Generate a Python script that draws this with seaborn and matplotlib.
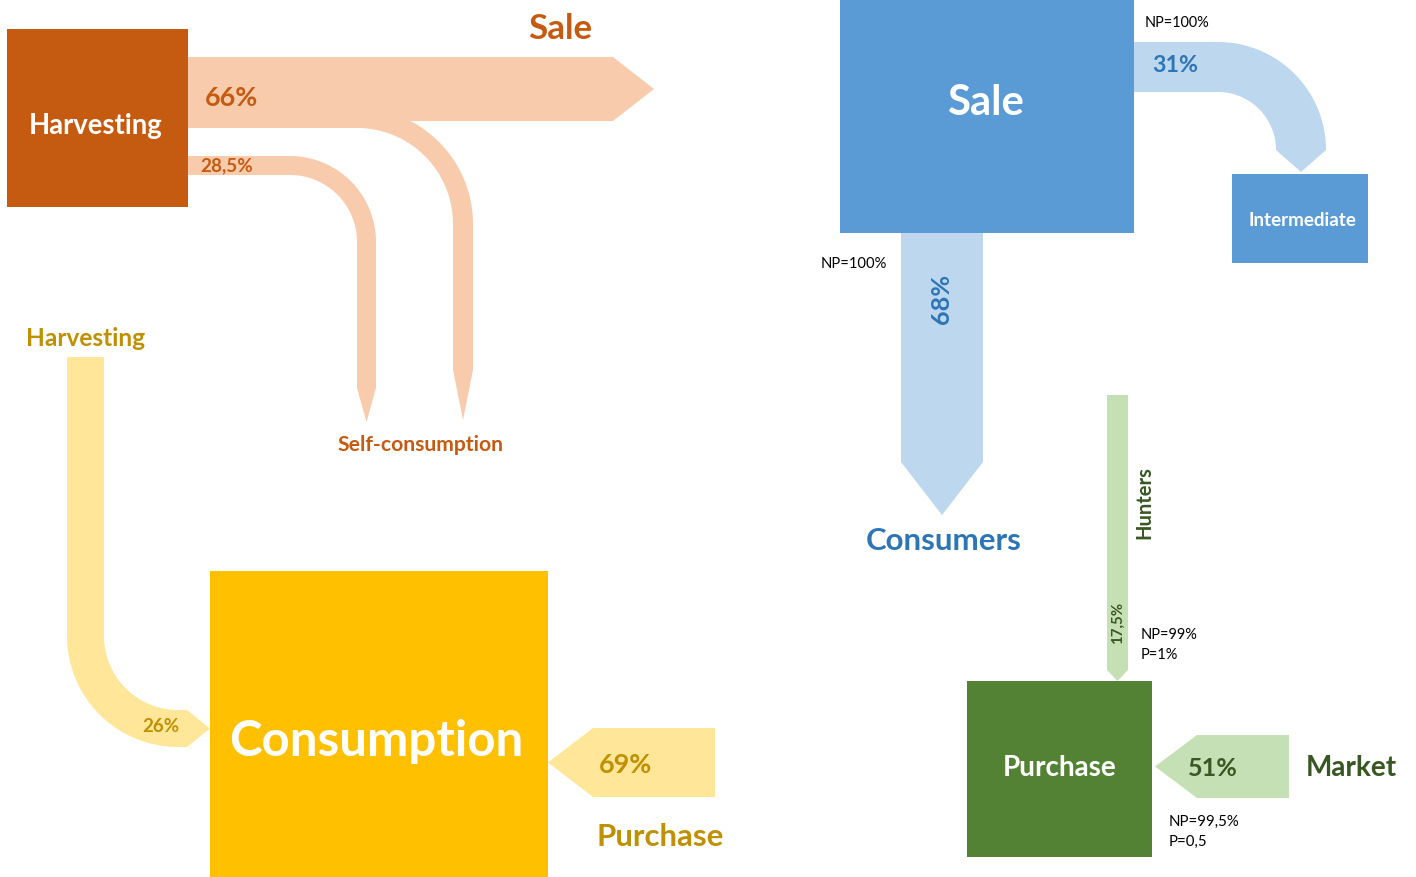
import numpy as np
import matplotlib
matplotlib.use("Agg")
import matplotlib.pyplot as plt
from matplotlib.patches import Polygon, Rectangle
import seaborn as sns

# ---------------- data ----------------
node_names = ["Harvesting", "Consumption", "Sale", "Purchase"]
harvest_dest = ["Sale", "Self-consumption"]
harvest_pct = [66, 28.5]
consumption_src = ["Harvesting", "Purchase"]
consumption_pct = [26, 69]
sale_dest = ["Intermediate", "Consumers"]
sale_pct = [31, 68]
sale_notes = ["NP=100%", "NP=100%"]
purchase_src = ["Hunters", "Market"]
purchase_pct = [17.5, 51]
purchase_notes = [["NP=99%", "P=1%"], ["NP=99,5%", "P=0,5"]]


def pct(v):
    return f"{v:g}".replace(".", ",") + "%"


# ---------------- colours ----------------
C_ORANGE = "#C55A11"
C_ORANGE_L = "#F8CBAD"
C_GOLD_T = "#BF9000"
C_YELLOW = "#FFC000"
C_YELLOW_L = "#FFE699"
C_BLUE = "#5B9BD5"
C_BLUE_L = "#BDD7EE"
C_BLUE_T = "#2E75B6"
C_GREEN = "#548235"
C_GREEN_L = "#C5E0B4"
C_GREEN_T = "#385723"

sns.set_theme(style="white")
plt.rcParams["font.family"] = ["Lato", "DejaVu Sans"]

W, H = 1416, 877
fig = plt.figure(figsize=(W / 100, H / 100), dpi=100)
ax = fig.add_axes([0, 0, 1, 1])
ax.set_xlim(0, W)
ax.set_ylim(H, 0)
ax.axis("off")


def arc(cx, cy, r, a0, a1, n=48):
    a = np.radians(np.linspace(a0, a1, n))
    return list(zip(cx + r * np.cos(a), cy + r * np.sin(a)))


def poly(pts, color, z=1):
    ax.add_patch(Polygon(pts, closed=True, facecolor=color, edgecolor="none", zorder=z))


def box(x0, y0, x1, y1, color, z=2):
    ax.add_patch(Rectangle((x0, y0), x1 - x0, y1 - y0, facecolor=color, edgecolor="none", zorder=z))


# ---------------- left-top: Harvesting ----------------
p = [(188, 108), (357, 108)] + arc(357, 224, 116, -90, 0) + [(473, 370), (463, 420), (453, 370)] \
    + arc(357, 224, 96, 0, -90) + [(188, 128)]
poly(p, C_ORANGE_L, 1)
p = [(188, 156), (290, 156)] + arc(290, 242, 86, -90, 0) + [(376, 388), (366.5, 422), (357, 388)] \
    + arc(290, 242, 67, 0, -90) + [(188, 175)]
poly(p, C_ORANGE_L, 1)
poly([(188, 57), (613, 57), (654, 89), (613, 121), (188, 121)], C_ORANGE_L, 2)
box(7, 29, 188, 207, C_ORANGE, 3)

# ---------------- left-bottom: Consumption ----------------
p = [(67, 357), (67, 636)] + arc(178, 636, 111, 180, 90) + [(187, 747), (210, 728.5), (187, 710)] \
    + arc(178, 636, 74, 90, 180) + [(104, 357)]
poly(p, C_YELLOW_L, 1)
poly([(715, 728), (593, 728), (548, 762.5), (593, 797), (715, 797)], C_YELLOW_L, 1)
box(210, 571, 548, 880, C_YELLOW, 3)

# ---------------- right-top: Sale ----------------
p = [(1134, 42), (1218, 42)] + arc(1218, 150, 108, -90, 0) + [(1301, 172)] \
    + arc(1218, 150, 58, 0, -90) + [(1134, 92)]
poly(p, C_BLUE_L, 1)
poly([(901, 230), (983, 230), (983, 462), (942, 515), (901, 462)], C_BLUE_L, 1)
box(840, -3, 1134, 233, C_BLUE, 3)
box(1232, 174, 1368, 263, C_BLUE, 3)

# ---------------- right-bottom: Purchase ----------------
poly([(1107, 395), (1128, 395), (1128, 670), (1117.5, 681), (1107, 670)], C_GREEN_L, 1)
poly([(1289, 735), (1197, 735), (1155, 766.5), (1197, 798), (1289, 798)], C_GREEN_L, 1)
box(967, 681, 1152, 857, C_GREEN, 3)

# ---------------- text ----------------
fig.canvas.draw()
renderer = fig.canvas.get_renderer()
DY = 2


def fit(x, y, s, target, color, weight="bold", rotation=0, ha="center", va="center", ref=20):
    t = ax.text(x, y + DY, s, fontsize=ref, color=color, fontweight=weight, rotation=rotation,
                ha=ha, va=va, zorder=5)
    bb = t.get_window_extent(renderer)
    size = bb.height if rotation else bb.width
    t.set_fontsize(ref * target / size)
    return t.get_fontsize()


fit(560, 27, harvest_dest[0], 64, C_ORANGE)
fit(96, 124, node_names[0], 134, "white")
fit(232, 96, pct(harvest_pct[0]), 53, C_ORANGE)
fit(227, 164, pct(harvest_pct[1]), 53, C_ORANGE)
fit(420, 443, harvest_dest[1], 166, C_ORANGE)

fit(86, 336, consumption_src[0], 119, C_GOLD_T)
fit(161, 724, pct(consumption_pct[0]), 37, C_GOLD_T)
fit(376, 739, node_names[1], 294, "white")
fit(626, 763, pct(consumption_pct[1]), 53, C_GOLD_T)
fit(660, 835, consumption_src[1], 127, C_GOLD_T)

fit(986, 101, node_names[2], 77, "white")
fit(1177, 21, sale_notes[0], 65, "black", weight="normal")
fit(1175, 64, pct(sale_pct[0]), 46, C_BLUE_T)
fit(1302, 218, sale_dest[0], 108, "white")
fit(854, 262, sale_notes[1], 66, "black", weight="normal")
fit(942, 297, pct(sale_pct[1]), 50, C_BLUE_T, rotation=90)
fit(944, 539, sale_dest[1], 156, C_BLUE_T)

fit(1144, 501, purchase_src[0], 73, C_GREEN_T, rotation=90)
fit(1118, 621, pct(purchase_pct[0]), 42, C_GREEN_T, rotation=90)
fs = fit(1141, 633, purchase_notes[0][0], 57, "black", weight="normal", ha="left")
ax.text(1141, 653 + DY, purchase_notes[0][1], fontsize=fs, color="black", ha="left", va="center", zorder=5)
fit(1060, 766, node_names[3], 114, "white")
fit(1213, 766, pct(purchase_pct[1]), 50, C_GREEN_T)
fit(1351, 766, purchase_src[1], 91, C_GREEN_T)
fs = fit(1169, 820, purchase_notes[1][0], 71, "black", weight="normal", ha="left")
ax.text(1169, 840 + DY, purchase_notes[1][1], fontsize=fs, color="black", ha="left", va="center", zorder=5)

fig.savefig("out.png", dpi=100, facecolor="white")
